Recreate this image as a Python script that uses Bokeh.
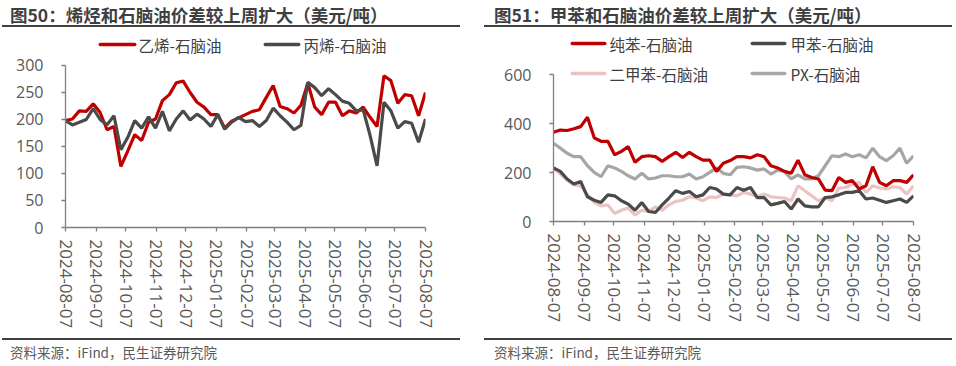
import pandas as pd
from bokeh.plotting import figure
from bokeh.models import Label, BoxAnnotation, FixedTicker, DatetimeTickFormatter, Range1d, Div
from bokeh.layouts import row, column
from bokeh.embed import file_html
from bokeh.resources import INLINE

# ---------------- data ----------------
tick_labels = ["2024-08-07", "2024-09-07", "2024-10-07", "2024-11-07", "2024-12-07",
               "2025-01-07", "2025-02-07", "2025-03-07", "2025-04-07", "2025-05-07",
               "2025-06-07", "2025-07-07", "2025-08-07"]

ethylene_naphtha = [198, 201, 216, 215, 229, 213, 181, 187, 113, 142, 172, 161, 195, 201,
                    235, 246, 268, 271, 250, 232, 223, 209, 209, 184, 197, 203, 209, 215,
                    218, 241, 263, 224, 220, 212, 226, 267, 223, 209, 232, 232, 207, 216,
                    212, 223, 204, 187, 281, 272, 230, 246, 244, 207, 250]
propylene_naphtha = [198, 190, 195, 200, 220, 200, 190, 207, 144, 167, 198, 184, 205, 184,
                     215, 179, 201, 216, 199, 210, 201, 187, 209, 182, 195, 204, 196, 198,
                     187, 198, 221, 207, 195, 181, 189, 269, 259, 244, 257, 246, 234, 230,
                     216, 218, 170, 114, 232, 216, 184, 196, 193, 158, 201]

benzene_naphtha = [365, 374, 372, 379, 388, 426, 342, 328, 328, 273, 287, 306, 242, 265,
                   269, 265, 246, 265, 283, 262, 283, 265, 251, 251, 205, 238, 249, 265,
                   265, 260, 273, 265, 228, 219, 205, 197, 251, 191, 180, 174, 128, 126,
                   180, 160, 167, 133, 146, 224, 160, 146, 167, 167, 160, 191]
toluene_naphtha = [219, 205, 174, 153, 164, 101, 87, 78, 109, 105, 85, 71, 46, 78,
                   41, 37, 68, 96, 126, 115, 123, 101, 109, 139, 133, 112, 109, 139,
                   128, 139, 98, 98, 68, 74, 82, 51, 92, 64, 60, 60, 98, 101,
                   109, 119, 119, 126, 92, 96, 87, 78, 85, 92, 78, 105]
xylene_naphtha = [219, 194, 169, 150, 146, 109, 78, 64, 68, 33, 46, 55, 27, 46,
                  41, 60, 46, 68, 82, 87, 101, 96, 85, 101, 98, 112, 109, 105,
                  119, 112, 101, 112, 101, 98, 96, 85, 146, 126, 105, 85, 98, 85,
                  137, 139, 153, 160, 119, 146, 137, 133, 142, 139, 112, 146]
px_naphtha = [320, 300, 279, 265, 265, 228, 201, 183, 228, 219, 205, 187, 174, 197,
              174, 178, 187, 187, 183, 183, 194, 174, 183, 201, 219, 197, 191, 221,
              224, 219, 210, 215, 194, 210, 205, 174, 191, 174, 174, 187, 228, 269,
              265, 276, 265, 273, 260, 300, 265, 249, 269, 300, 238, 269]

left_title = "图50：烯烃和石脑油价差较上周扩大（美元/吨）"
right_title = "图51：甲苯和石脑油价差较上周扩大（美元/吨）"
source_text = "资料来源：iFind，民生证券研究院"

START, END = "2024-08-07", "2025-08-07"
CJK = "Noto Sans CJK SC"
NUM = "Open Sans"
RED = "#C00000"
DARK = "#4A4A4A"
PINK = "#EBC3C3"
GREY = "#A6A6A6"
RULE = "#404040"


def dates(n):
    return pd.date_range(START, END, periods=n)


def base_fig(height, ymax, ytop, ystep, left, right):
    p = figure(width=478, height=height, output_backend="svg", toolbar_location=None,
               x_axis_type="datetime", min_border_left=left, min_border_right=right,
               min_border_top=2, min_border_bottom=108)
    p.title.visible = False
    p.x_range = Range1d(pd.Timestamp(START), pd.Timestamp(END))
    p.y_range = Range1d(0, ytop)
    p.grid.visible = False
    p.outline_line_color = None
    p.background_fill_color = "white"
    p.border_fill_color = "white"
    tick_ms = [pd.Timestamp(t).value // 10**6 for t in tick_labels]
    p.xaxis.ticker = FixedTicker(ticks=tick_ms)
    fmt = "%Y-%m-%d"
    p.xaxis.formatter = DatetimeTickFormatter(days=fmt, months=fmt, years=fmt, hours=fmt,
                                              minutes=fmt, seconds=fmt)
    p.xaxis.major_label_orientation = "vertical"
    p.yaxis.ticker = FixedTicker(ticks=list(range(0, ymax + 1, ystep)))
    p.yaxis.bounds = (0, ymax)
    for ax in (p.xaxis, p.yaxis):
        ax.axis_line_color = "#7F7F7F"
        ax.axis_line_width = 1.3
        ax.major_tick_line_color = "#7F7F7F"
        ax.major_tick_line_width = 1.3
        ax.major_tick_in = 0
        ax.major_tick_out = 4
        ax.minor_tick_line_color = None
        ax.major_label_text_font = NUM
        ax.major_label_text_color = "#595959"
    p.yaxis.major_label_text_font_size = "16px"
    p.xaxis.major_label_text_font_size = "17px"
    p.xaxis.major_label_standoff = 8
    p.yaxis.major_label_standoff = 18
    return p


def text(p, x, y, s, size="15.5px", color="#404040"):
    p.add_layout(Label(x=x, y=y, x_units="canvas", y_units="canvas", text=s,
                       text_font=CJK, text_font_size=size, text_color=color,
                       text_align="left", text_baseline="middle"))


def swatch(p, x0, x1, y, color):
    p.add_layout(BoxAnnotation(left=x0, right=x1, top=y - 1.8, bottom=y + 1.8,
                               left_units="canvas", right_units="canvas",
                               top_units="canvas", bottom_units="canvas",
                               fill_color=color, fill_alpha=1, line_color=None,
                               border_radius=2, level="overlay"))


def header(title, tx, rx0, rx1):
    html = (f'<div style="position:relative;width:478px;height:28px;">'
            f'<div style="position:absolute;left:{tx}px;top:3px;white-space:nowrap;'
            f'font-family:\'{CJK}\';font-weight:bold;font-size:17.5px;line-height:24px;'
            f'color:#3F3F3F;">{title}</div>'
            f'<div style="position:absolute;left:{rx0}px;top:25px;width:{rx1 - rx0}px;'
            f'height:2px;background:{RULE};"></div></div>')
    return Div(text=html, width=478, height=28, margin=(0, 0, 0, 0))


def footer(h, ry, tx, rx0, rx1):
    html = (f'<div style="position:relative;width:478px;height:{h}px;">'
            f'<div style="position:absolute;left:{rx0}px;top:{ry}px;width:{rx1 - rx0}px;'
            f'height:2px;background:{RULE};"></div>'
            f'<div style="position:absolute;left:{tx}px;top:{ry + 5}px;white-space:nowrap;'
            f'font-family:\'{CJK}\';font-size:13.5px;line-height:18px;color:#595959;">'
            f'{source_text}</div></div>')
    return Div(text=html, width=478, height=h, margin=(0, 0, 0, 0))


# ---------------- left chart ----------------
p1 = base_fig(307, 300, 364.8, 50, 65, 53)
p1.line(dates(len(ethylene_naphtha)), ethylene_naphtha, line_color=RED, line_width=3.2)
p1.line(dates(len(propylene_naphtha)), propylene_naphtha, line_color=DARK, line_width=3.2)
swatch(p1, 98, 136, 16, RED)
text(p1, 138, 16, "乙烯-石脑油")
swatch(p1, 263, 300, 16, DARK)
text(p1, 303, 16, "丙烯-石脑油")
left_panel = column(header(left_title, 10, 2, 460), p1, footer(31, 3, 10, 2, 460))

# ---------------- right chart ----------------
p2 = base_fig(301, 600, 781.0, 200, 75, 43)
p2.line(dates(len(px_naphtha)), px_naphtha, line_color=GREY, line_width=3.2)
p2.line(dates(len(xylene_naphtha)), xylene_naphtha, line_color=PINK, line_width=3.2)
p2.line(dates(len(toluene_naphtha)), toluene_naphtha, line_color=DARK, line_width=3.2)
p2.line(dates(len(benzene_naphtha)), benzene_naphtha, line_color=RED, line_width=3.2)
swatch(p2, 92, 128, 15, RED)
text(p2, 131, 15, "纯苯-石脑油")
swatch(p2, 272, 308, 15, DARK)
text(p2, 312, 15, "甲苯-石脑油")
swatch(p2, 92, 128, 45, PINK)
text(p2, 131, 45, "二甲苯-石脑油")
swatch(p2, 272, 308, 45, GREY)
text(p2, 312, 45, "PX-石脑油")
right_panel = column(header(right_title, 16, 6, 474), p2, footer(37, 9, 16, 6, 474))

layout = row(left_panel, right_panel)
open("out.html", "w").write(file_html(layout, INLINE))
